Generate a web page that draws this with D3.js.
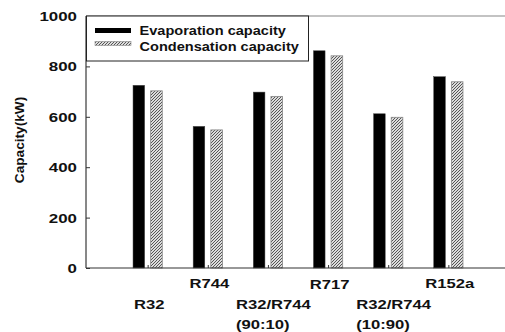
<!DOCTYPE html>
<html><head><meta charset="utf-8">
<script src="https://cdn.jsdelivr.net/npm/d3@7"></script>
<style>body{margin:0;background:#fff}svg{display:block}text{font-family:"Liberation Sans",Arial,sans-serif;font-weight:bold;fill:#111}</style>
</head><body>
<svg id="c" width="505" height="332"></svg>
<script>
const categories = [["R32"], ["R744"], ["R32/R744", "(90:10)"], ["R717"], ["R32/R744", "(10:90)"], ["R152a"]];
const labelRow = [1, 0, 1, 0, 1, 0];
const evaporation = [725, 562, 698, 862, 612, 759];
const condensation = [703, 548, 681, 842, 598, 739];
const seriesNames = ["Evaporation capacity", "Condensation capacity"];
const yTicks = [0, 200, 400, 600, 800, 1000];

const svg = d3.select("#c");
const W = 505, H = 332;
const x = d3.scaleLinear().domain([0, 7]).range([87.5, 508.5]);
const y = d3.scaleLinear().domain([0, 1000]).range([268, 16]);
const axisX = 86;

const defs = svg.append("defs");
const pat = defs.append("pattern").attr("id", "hatch").attr("patternUnits", "userSpaceOnUse")
  .attr("width", 3).attr("height", 3);
pat.append("rect").attr("width", 3).attr("height", 3).attr("fill", "#dcdcdc");
pat.append("path").attr("d", "M-1,1 L1,-1 M0,3 L3,0 M2,4 L4,2").attr("stroke", "#555").attr("stroke-width", 1);

const bw = x(0.193) - x(0);
const gap = x(0.05) - x(0);

// top frame line
svg.append("line").attr("x1", axisX).attr("x2", W).attr("y1", y(1000)).attr("y2", y(1000))
  .attr("stroke", "#888").attr("stroke-width", 1.2);

// bars
const data = categories.map((c, i) => ({ i: i + 1, e: evaporation[i], c: condensation[i] }));
svg.selectAll("rect.ev").data(data).join("rect").attr("class", "ev")
  .attr("x", d => x(d.i) - gap - bw).attr("width", bw)
  .attr("y", d => y(d.e)).attr("height", d => y(0) - y(d.e))
  .attr("fill", "#000").attr("stroke", "#444").attr("stroke-width", 0.5);
svg.selectAll("rect.co").data(data).join("rect").attr("class", "co")
  .attr("x", d => x(d.i) + gap).attr("width", bw)
  .attr("y", d => y(d.c)).attr("height", d => y(0) - y(d.c))
  .attr("fill", "url(#hatch)").attr("stroke", "#888").attr("stroke-width", 0.8);

// axes
const ya = svg.append("g").attr("transform", `translate(${axisX},0)`)
  .call(d3.axisRight(y).tickValues(yTicks).tickSize(4).tickFormat(""));
ya.select(".domain").attr("stroke", "#111").attr("d", `M0,${y(0)}V${y(1000)}`);
ya.selectAll(".tick line").attr("stroke", "#333");
const xa = svg.append("g").attr("transform", `translate(0,${y(0)})`)
  .call(d3.axisTop(x).tickValues(data.map(d => d.i)).tickSize(3).tickFormat(""));
xa.select(".domain").attr("stroke", "#333").attr("stroke-width", 1.2).attr("d", `M${axisX},0H${W}`);
xa.selectAll(".tick line").attr("stroke", "#333");

// y tick labels
yTicks.forEach(t => {
  svg.append("text").attr("transform", `translate(77,${y(t) + 5}) scale(1.3,1)`)
    .attr("text-anchor", "end").attr("font-size", 13).text(t);
});

// y label
svg.append("text").attr("transform", "translate(23.5,140) rotate(-90) scale(1.05,1)")
  .attr("text-anchor", "middle").attr("font-size", 13).text("Capacity(kW)");

// category labels
const rowBase = [287.5, 308.5];
categories.forEach((lines, i) => {
  const cx = x(i + 1);
  const g = svg.append("g");
  if (lines.length === 1) {
    g.append("text").attr("transform", `translate(${cx + 1.5},${rowBase[labelRow[i]] + (i === 3 ? 1.5 : 0)}) scale(1.28,1)`)
      .attr("text-anchor", "middle").attr("font-size", 13).text(lines[0]);
  } else {
    lines.forEach((ln, k) => {
      g.append("text").attr("transform", `translate(${cx - 32},${rowBase[labelRow[i]] + k * 20}) scale(1.28,1)`)
        .attr("text-anchor", "start").attr("font-size", 13).text(ln);
    });
  }
});

// legend
const lg = svg.append("g");
lg.append("rect").attr("x", 86.5).attr("y", 16).attr("width", 222).attr("height", 45)
  .attr("fill", "#fff").attr("stroke", "#222").attr("stroke-width", 1);
const sw = [{ f: "#000", s: "none", y: 28 }, { f: "url(#hatch)", s: "#888", y: 41.5 }];
seriesNames.forEach((n, k) => {
  lg.append("rect").attr("x", 95).attr("y", sw[k].y).attr("width", 36).attr("height", k ? 4 : 5)
    .attr("fill", sw[k].f).attr("stroke", sw[k].s).attr("stroke-width", 0.6);
  lg.append("text").attr("transform", `translate(139.5,${34.5 + k * 16}) scale(1.12,1)`)
    .attr("font-size", 13).text(n);
});
</script>
</body></html>
